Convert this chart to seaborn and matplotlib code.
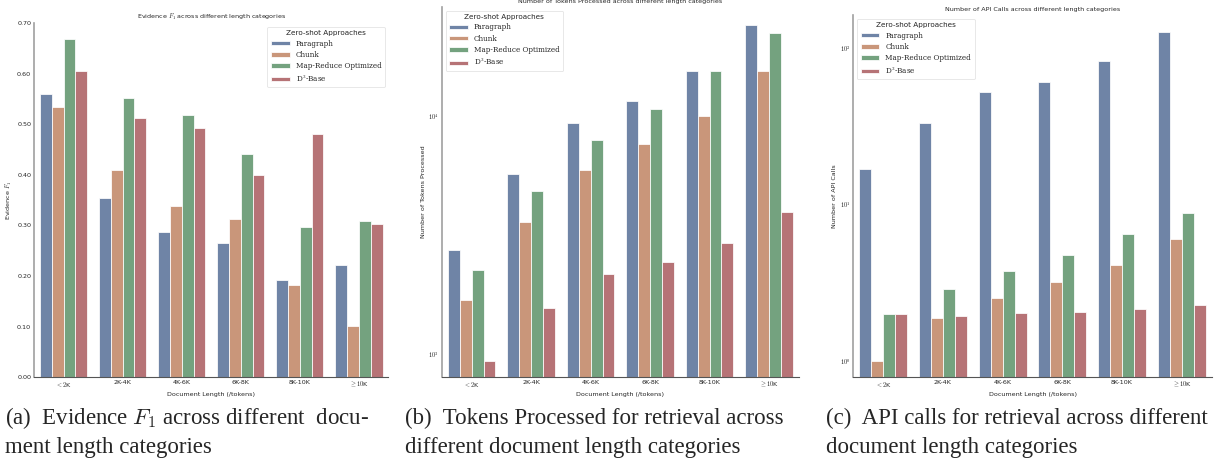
import numpy as np
import pandas as pd
import matplotlib as mpl
mpl.use("Agg")
import matplotlib.pyplot as plt
import seaborn as sns

# Document length buckets and zero-shot approaches
categories = ["$<2$K", "2K-4K", "4K-6K", "6K-8K", "8K-10K", r"$\geq 10$K"]
methods = ["Paragraph", "Chunk", "Map-Reduce Optimized", "D$^3$-Base"]

# Evidence F1
f1_paragraph = [0.560, 0.355, 0.287, 0.266, 0.192, 0.222]
f1_chunk     = [0.535, 0.410, 0.338, 0.312, 0.183, 0.102]
f1_mapreduce = [0.668, 0.552, 0.518, 0.441, 0.297, 0.309]
f1_d3base    = [0.605, 0.512, 0.492, 0.400, 0.480, 0.303]

# Tokens processed (panel b, log scale)
tok_paragraph = [2730, 5740, 9310, 11600, 15400, 24100]
tok_chunk     = [1690, 3610, 5930, 7600, 9970, 15400]
tok_mapreduce = [2270, 4850, 7950, 10700, 15460, 22200]
tok_d3base    = [941, 1560, 2170, 2430, 2940, 3960]

# API calls (panel c, log scale)
api_paragraph = [16.9, 33.3, 52.5, 60.8, 82.8, 126]
api_chunk     = [1.0, 1.87, 2.53, 3.2, 4.1, 5.97]
api_mapreduce = [2.0, 2.88, 3.73, 4.78, 6.48, 8.8]
api_d3base    = [2.0, 1.94, 2.02, 2.06, 2.15, 2.28]


def to_long(series):
    rows = []
    for m, vals in zip(methods, series):
        for c, v in zip(categories, vals):
            rows.append({"Length": c, "Approach": m, "value": v})
    return pd.DataFrame(rows)


f1 = to_long([f1_paragraph, f1_chunk, f1_mapreduce, f1_d3base])
tok = to_long([tok_paragraph, tok_chunk, tok_mapreduce, tok_d3base])
api = to_long([api_paragraph, api_chunk, api_mapreduce, api_d3base])

sns.set_theme(style="white", palette="deep")
plt.rcParams["font.family"] = ["DejaVu Sans"]
plt.rcParams["mathtext.fontset"] = "cm"

fig = plt.figure(figsize=(12.14, 4.61), dpi=100)
ax_a = fig.add_axes([0.028, 0.182, 0.292, 0.768])
ax_b = fig.add_axes([0.364, 0.182, 0.294, 0.803])
ax_c = fig.add_axes([0.703, 0.182, 0.295, 0.785])

fs = 4.6
bar_kws = dict(x="Length", y="value", hue="Approach", order=categories,
               hue_order=methods, saturation=0.62, alpha=0.9,
               edgecolor="white", linewidth=0.6)

panels = [
    (ax_a, f1, r"Evidence $F_1$ across different length categories", r"Evidence $F_1$", "upper right"),
    (ax_b, tok, "Number of Tokens Processed across different length categories", "Number of Tokens Processed", "upper left"),
    (ax_c, api, "Number of API Calls across different length categories", "Number of API Calls", "upper left"),
]

for ax, df, title, ylabel, loc in panels:
    sns.barplot(data=df, ax=ax, **bar_kws)
    ax.set_title(title, fontsize=fs, pad=3)
    ax.set_ylabel(ylabel, fontsize=fs, labelpad=2)
    ax.set_xlabel("Document Length (/tokens)", fontsize=fs, labelpad=2)
    ax.tick_params(axis="both", labelsize=fs, length=0, pad=2)
    sns.despine(ax=ax)
    ax.spines["left"].set_color("#a0a0a0")
    ax.spines["left"].set_linewidth(1.2)
    ax.spines["bottom"].set_color("#555555")
    ax.spines["bottom"].set_linewidth(0.8)
    leg = ax.legend(loc=loc, title="Zero-shot Approaches", fontsize=5.2,
                    title_fontsize=5.2, frameon=True, handlelength=2.6,
                    handleheight=0.6, borderpad=0.5, labelspacing=0.45)
    for t in leg.get_texts():
        t.set_family("DejaVu Serif")
    leg.get_frame().set_edgecolor("#dddddd")
    leg.get_frame().set_linewidth(0.6)

ax_a.set_ylim(0, 0.70)
ax_a.set_yticks(np.arange(0, 0.71, 0.1))
ax_a.set_yticklabels([f"{v:.2f}" for v in np.arange(0, 0.71, 0.1)])

ax_b.set_yscale("log")
ax_b.set_ylim(803, 28700)
ax_b.set_yticks([1e3, 1e4])
ax_b.set_yticklabels(["$10^3$", "$10^4$"])
ax_b.yaxis.set_minor_locator(mpl.ticker.NullLocator())

ax_c.set_yscale("log")
ax_c.set_ylim(0.787, 162)
ax_c.set_yticks([1, 10, 100])
ax_c.set_yticklabels(["$10^0$", "$10^1$", "$10^2$"])
ax_c.yaxis.set_minor_locator(mpl.ticker.NullLocator())

# subfigure captions
cap = dict(fontsize=16.5, family="Liberation Serif", va="center", ha="left")
fig.text(0.004, 0.093, r"(a)  Evidence $F_1$ across different  docu-", **cap)
fig.text(0.004, 0.030, "ment length categories", **cap)
fig.text(0.334, 0.093, "(b)  Tokens Processed for retrieval across", **cap)
fig.text(0.334, 0.030, "different document length categories", **cap)
fig.text(0.680, 0.093, "(c)  API calls for retrieval across different", **cap)
fig.text(0.680, 0.030, "document length categories", **cap)

fig.savefig("out.png", dpi=100)
